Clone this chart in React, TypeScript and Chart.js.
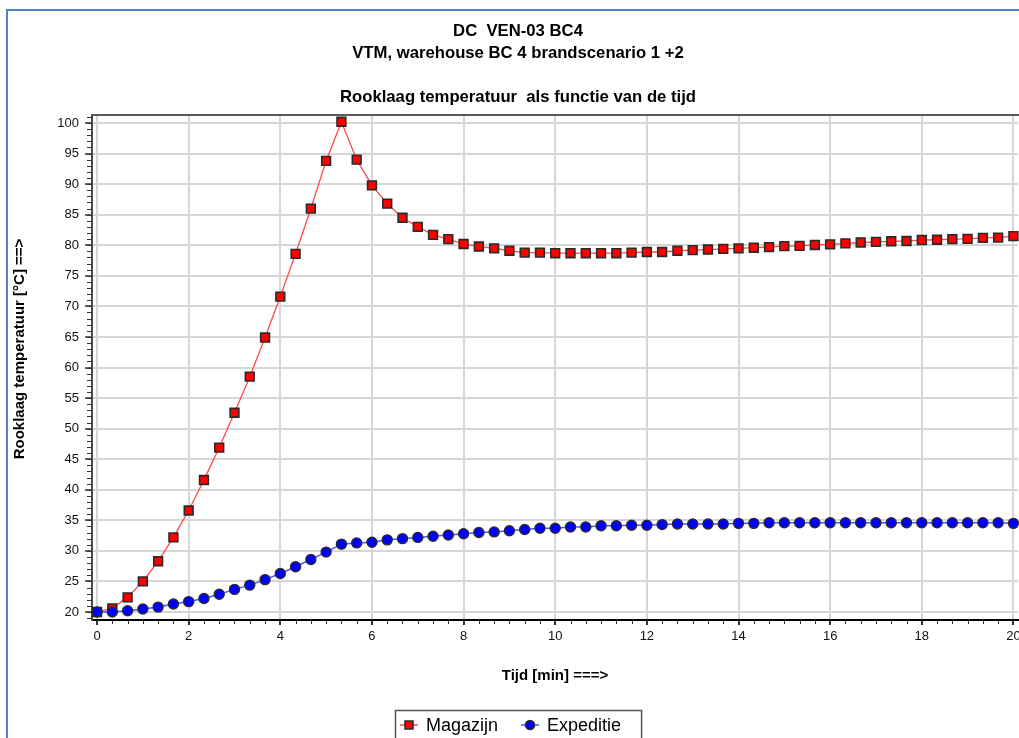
import React, { useEffect, useRef } from "react";
import { Chart, registerables } from "chart.js";

Chart.register(...registerables);

const FONT = "'Liberation Sans', Arial, Helvetica, sans-serif";

const chartTitle = [
  "DC  VEN-03 BC4",
  "VTM, warehouse BC 4 brandscenario 1 +2",
  "",
  "Rooklaag temperatuur  als functie van de tijd",
];
const xAxisTitle = "Tijd [min] ===>";
const yAxisTitle = "Rooklaag temperatuur [°C] ==>";
const seriesNames = ["Magazijn", "Expeditie"];

// time of each sample, in seconds
const timeSec = [
  0, 20, 40, 60, 80, 100, 120, 140, 160, 180,
  200, 220, 240, 260, 280, 300, 320, 340, 360, 380,
  400, 420, 440, 460, 480, 500, 520, 540, 560, 580,
  600, 620, 640, 660, 680, 700, 720, 740, 760, 780,
  800, 820, 840, 860, 880, 900, 920, 940, 960, 980,
  1000, 1020, 1040, 1060, 1080, 1100, 1120, 1140, 1160, 1180,
  1200,
];

const magazijn = [
  20.0, 20.6, 22.4, 25.0, 28.3, 32.2, 36.6, 41.6, 46.9, 52.6,
  58.5, 64.9, 71.6, 78.6, 86.0, 93.8, 100.2, 94.0, 89.8, 86.8,
  84.5, 83.0, 81.7, 81.0, 80.2, 79.8, 79.5, 79.1, 78.8, 78.8,
  78.7, 78.7, 78.7, 78.7, 78.7, 78.8, 78.9, 78.9, 79.1, 79.2,
  79.3, 79.4, 79.5, 79.6, 79.7, 79.85, 79.9, 80.05, 80.15, 80.3,
  80.45, 80.55, 80.65, 80.7, 80.85, 80.9, 81.0, 81.05, 81.2, 81.25,
  81.5,
];

const expeditie = [
  20.0, 20.0, 20.2, 20.5, 20.8, 21.3, 21.7, 22.2, 22.9, 23.7,
  24.4, 25.3, 26.3, 27.4, 28.6, 29.8, 31.1, 31.3, 31.4, 31.8,
  32.0, 32.2, 32.4, 32.6, 32.8, 33.0, 33.1, 33.3, 33.5, 33.7,
  33.7, 33.9, 33.9, 34.1, 34.1, 34.2, 34.2, 34.3, 34.4, 34.4,
  34.4, 34.4, 34.5, 34.5, 34.6, 34.6, 34.6, 34.6, 34.6, 34.6,
  34.6, 34.6, 34.6, 34.6, 34.6, 34.6, 34.6, 34.6, 34.6, 34.6,
  34.5,
];

const xTicks = [0, 2, 4, 6, 8, 10, 12, 14, 16, 18, 20];
const yTicks = [20, 25, 30, 35, 40, 45, 50, 55, 60, 65, 70, 75, 80, 85, 90, 95, 100];

const RED = "#ff0000";
const RED_LINE = "#ff4a4a";
const BLUE = "#0000ff";
const BLUE_LINE = "#5050ff";
const MARKER_EDGE = "#2a2a2a";

const decorPlugin = {
  id: "decor",
  beforeDraw(chart: any) {
    const { ctx, width, height } = chart;
    ctx.save();
    ctx.fillStyle = "#ffffff";
    ctx.fillRect(0, 0, width, height);
    ctx.restore();
  },
  afterDraw(chart: any) {
    const { ctx, chartArea: a, scales } = chart;
    const xs = scales.x;
    const ys = scales.y;
    ctx.save();

    // top frame line
    ctx.strokeStyle = "#5a5a5a";
    ctx.lineWidth = 2;
    ctx.beginPath();
    ctx.moveTo(a.left - 1, a.top);
    ctx.lineTo(a.right + 20, a.top);
    ctx.stroke();

    // minor ticks
    ctx.strokeStyle = "#333333";
    ctx.lineWidth = 1;
    ctx.beginPath();
    for (let k = 0; k <= 60; k++) {
      const px = Math.round(xs.getPixelForValue(k / 3)) + 0.5;
      ctx.moveTo(px, a.bottom);
      ctx.lineTo(px, a.bottom + 4);
    }
    for (let v = 19; v <= 101; v++) {
      const py = Math.round(ys.getPixelForValue(v)) + 0.5;
      ctx.moveTo(a.left - 5, py);
      ctx.lineTo(a.left, py);
    }
    ctx.stroke();

    // y axis title
    ctx.save();
    ctx.translate(20, 349);
    ctx.rotate(-Math.PI / 2);
    ctx.font = `bold 15px ${FONT}`;
    ctx.fillStyle = "#000";
    ctx.textAlign = "center";
    ctx.textBaseline = "middle";
    ctx.fillText(yAxisTitle, 0, 0);
    ctx.restore();

    // legend
    const ly = 725;
    const boxLeft = 395;
    ctx.font = `18px ${FONT}`;
    ctx.textBaseline = "alphabetic";
    ctx.textAlign = "left";
    let cx = boxLeft + 5;
    const ds = chart.data.datasets;
    const itemStarts: number[] = [];
    const widths: number[] = [];
    for (let i = 0; i < ds.length; i++) {
      itemStarts.push(cx);
      const tw = ctx.measureText(ds[i].label).width;
      widths.push(tw);
      cx += 18 + 8 + tw + 23;
    }
    const boxRight = itemStarts[ds.length - 1] + 26 + widths[ds.length - 1] + 20;
    ctx.strokeStyle = "#555";
    ctx.lineWidth = 1.5;
    ctx.strokeRect(boxLeft + 0.5, 710.5, boxRight - boxLeft, 60);
    for (let i = 0; i < ds.length; i++) {
      const d = ds[i];
      const x0 = itemStarts[i];
      ctx.strokeStyle = d.borderColor;
      ctx.lineWidth = 1.5;
      ctx.beginPath();
      ctx.moveTo(x0, ly);
      ctx.lineTo(x0 + 18, ly);
      ctx.stroke();
      ctx.fillStyle = d.pointBackgroundColor;
      ctx.strokeStyle = MARKER_EDGE;
      ctx.lineWidth = 1.5;
      ctx.beginPath();
      if (d.pointStyle === "rect") {
        ctx.rect(x0 + 9 - 4, ly - 4, 8, 8);
      } else {
        ctx.arc(x0 + 9, ly, 4.5, 0, Math.PI * 2);
      }
      ctx.fill();
      ctx.stroke();
      ctx.fillStyle = "#000";
      ctx.fillText(d.label, x0 + 26, 731);
    }

    ctx.restore();
  },
};

export default function App() {
  const canvasRef = useRef<HTMLCanvasElement | null>(null);

  useEffect(() => {
    const canvas = canvasRef.current;
    if (!canvas) return;
    Chart.defaults.font.family = FONT;
    const chart = new Chart(canvas, {
      type: "line",
      data: {
        datasets: [
          {
            label: seriesNames[0],
            data: timeSec.map((s, i) => ({ x: s / 60, y: magazijn[i] })),
            borderColor: RED_LINE,
            borderWidth: 1.3,
            pointStyle: "rect",
            pointRadius: 6.2,
            pointBackgroundColor: RED,
            pointBorderColor: MARKER_EDGE,
            pointBorderWidth: 1.6,
            tension: 0,
            clip: false as any,
            order: 1,
          },
          {
            label: seriesNames[1],
            data: timeSec.map((s, i) => ({ x: s / 60, y: expeditie[i] })),
            borderColor: BLUE_LINE,
            borderWidth: 1.5,
            pointStyle: "circle",
            pointRadius: 5,
            pointBackgroundColor: BLUE,
            pointBorderColor: MARKER_EDGE,
            pointBorderWidth: 1.4,
            tension: 0,
            clip: false as any,
            order: 0,
          },
        ],
      },
      options: {
        animation: false,
        responsive: false,
        maintainAspectRatio: false,
        devicePixelRatio: 1,
        layout: { padding: { left: 18, right: 22, top: 0, bottom: 60 } },
        plugins: {
          legend: { display: false },
          tooltip: { enabled: false },
          title: {
            display: true,
            text: chartTitle,
            color: "#000",
            font: { family: FONT, size: 16.7, weight: "bold", lineHeight: "21.7px" },
            padding: { top: 21, bottom: 7.2 },
          },
        },
        scales: {
          x: {
            type: "linear",
            min: -0.11,
            max: 20.1,
            afterFit: (scale: any) => {
              scale.height = 80;
            },
            afterBuildTicks: (scale: any) => {
              scale.ticks = xTicks.map((v) => ({ value: v }));
            },
            ticks: {
              color: "#111",
              font: { family: FONT, size: 13 },
              padding: 4,
              maxRotation: 0,
              autoSkip: false,
            },
            grid: {
              color: "#d6d6d6",
              lineWidth: 2,
              tickLength: 5,
              tickColor: "#333",
              tickWidth: 2,
            },
            border: { display: true, color: "#000", width: 2 },
            title: {
              display: true,
              text: xAxisTitle,
              color: "#000",
              font: { family: FONT, size: 15, weight: "bold" },
              padding: { top: 0, bottom: 15 },
            },
          },
          y: {
            type: "linear",
            min: 18.69,
            max: 101.31,
            afterFit: (scale: any) => {
              scale.width = 74;
            },
            afterBuildTicks: (scale: any) => {
              scale.ticks = yTicks.map((v) => ({ value: v }));
            },
            ticks: {
              color: "#111",
              font: { family: FONT, size: 13 },
              padding: 6,
              autoSkip: false,
            },
            grid: {
              color: "#d6d6d6",
              lineWidth: 2,
              tickLength: 7,
              tickColor: "#333",
              tickWidth: 1.5,
            },
            border: { display: true, color: "#4a4a4a", width: 2 },
          },
        },
      },
      plugins: [decorPlugin],
    });
    return () => {
      chart.destroy();
    };
  }, []);

  return (
    <div
      style={{
        position: "fixed",
        left: 0,
        top: 0,
        width: 1019,
        height: 738,
        overflow: "hidden",
        background: "#ffffff",
      }}
    >
      <canvas
        ref={canvasRef}
        width={1040}
        height={760}
        style={{ position: "absolute", left: 0, top: 0, width: 1040, height: 760 }}
      />
      <div
        style={{
          position: "absolute",
          left: 6,
          top: 9,
          width: 1100,
          height: 800,
          borderLeft: "2px solid #4f81c4",
          borderTop: "2px solid #4f81c4",
          pointerEvents: "none",
        }}
      />
    </div>
  );
}
